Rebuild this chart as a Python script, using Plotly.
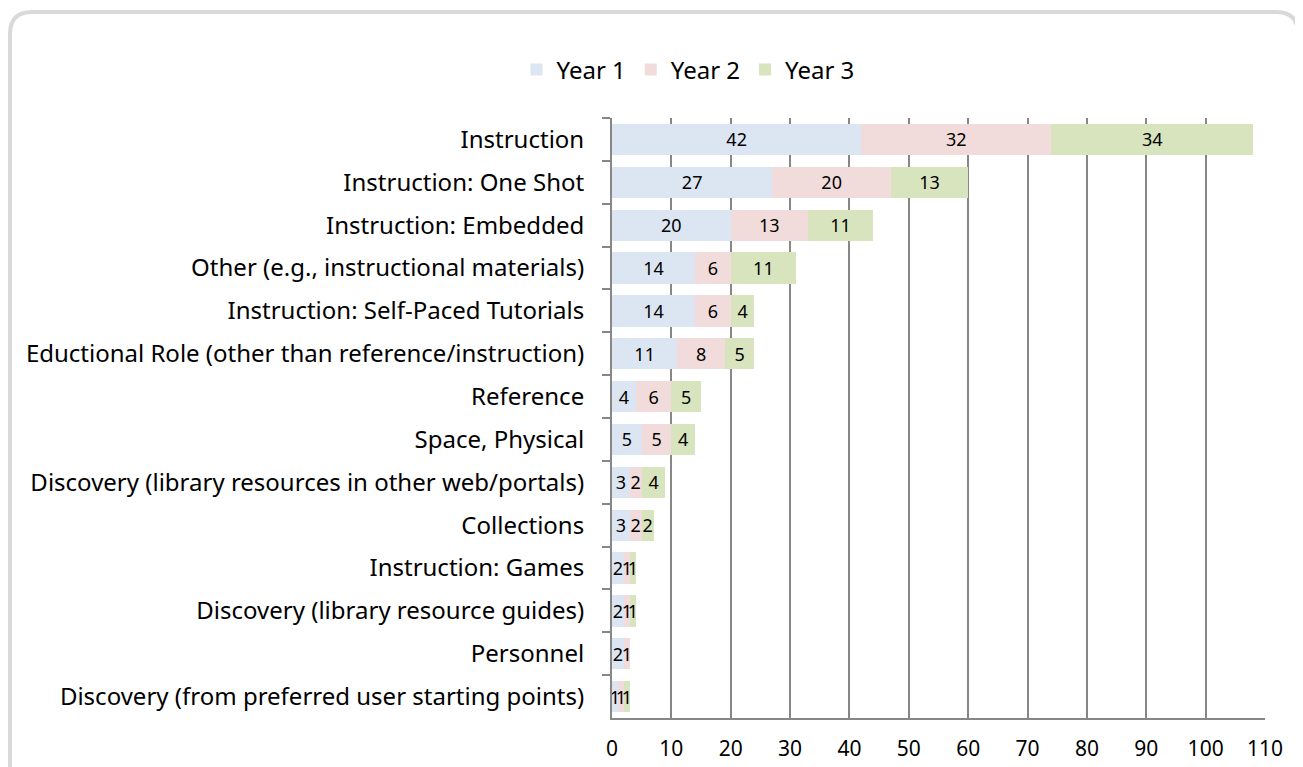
import plotly.graph_objects as go

categories = [
    "Instruction",
    "Instruction: One Shot",
    "Instruction: Embedded",
    "Other (e.g., instructional materials)",
    "Instruction: Self-Paced Tutorials",
    "Eductional Role (other than reference/instruction)",
    "Reference",
    "Space, Physical",
    "Discovery (library resources in other web/portals)",
    "Collections",
    "Instruction: Games",
    "Discovery (library resource guides)",
    "Personnel",
    "Discovery (from preferred user starting points)",
]
year1 = [42, 27, 20, 14, 14, 11, 4, 5, 3, 3, 2, 2, 2, 1]
year2 = [32, 20, 13, 6, 6, 8, 6, 5, 2, 2, 1, 1, 1, 1]
year3 = [34, 13, 11, 11, 4, 5, 5, 4, 4, 2, 1, 1, None, 1]
series_names = ["Year 1", "Year 2", "Year 3"]
series_colors = ["#dce6f2", "#f2dcdb", "#d7e4bd"]
x_ticks = [0, 10, 20, 30, 40, 50, 60, 70, 80, 90, 100, 110]

OFF = 8  # page body margin
W, H = 1303 - OFF, 767 - OFF
L, R, T, B = 612 - OFF, 38, 118 - OFF, 49
PW, PH = W - L - R, H - T - B

def px(x):
    return (x - OFF - L) / PW

def py(y):
    return (H - B - (y - OFF)) / PH

FONT = "Noto Sans"

fig = go.Figure()
for name, vals, col in zip(series_names, [year1, year2, year3], series_colors):
    fig.add_trace(go.Bar(
        y=categories, x=vals, name=name, orientation="h",
        marker=dict(color=col, line=dict(width=0)),
        text=[("" if v is None else str(v)) for v in vals],
        textposition="inside", insidetextanchor="middle",
        constraintext="none", cliponaxis=False,
        textfont=dict(family=FONT, size=18, color="#000000"),
        hoverinfo="x+y+name",
    ))

# rounded border around the chart area
x0, x1, y0, y1, r = 10, 1298, 12, 800, 22
path = (f"M {px(x0)},{py(y0 + r)} Q {px(x0)},{py(y0)} {px(x0 + r)},{py(y0)} "
        f"L {px(x1 - r)},{py(y0)} Q {px(x1)},{py(y0)} {px(x1)},{py(y0 + r)} "
        f"L {px(x1)},{py(y1)} L {px(x0)},{py(y1)} Z")
fig.add_shape(type="path", xref="paper", yref="paper", path=path,
              line=dict(color="#d9d9d9", width=4), fillcolor="rgba(0,0,0,0)", layer="below")

fig.update_layout(
    width=W, height=H,
    margin=dict(l=L, r=R, t=T, b=B, autoexpand=False),
    barmode="stack", bargap=0.27,
    paper_bgcolor="white", plot_bgcolor="white",
    font=dict(family=FONT, size=22, color="#000000"),
    showlegend=True,
    legend=dict(orientation="h", x=(688 - OFF) / W, xanchor="center", xref="container",
                y=py(70), yanchor="middle", font=dict(family=FONT, size=24),
                itemwidth=30, traceorder="normal", bgcolor="rgba(0,0,0,0)"),
    xaxis=dict(range=[0, 110], tickvals=x_ticks, ticktext=[str(t) for t in x_ticks],
               showgrid=True, gridcolor="#878787", gridwidth=2,
               showline=True, linecolor="#878787", linewidth=2,
               ticks="", ticklabelstandoff=11, zeroline=False,
               tickfont=dict(family=FONT, size=21)),
    yaxis=dict(categoryorder="array", categoryarray=categories, autorange="reversed",
               showline=True, linecolor="#878787", linewidth=2,
               ticks="outside", tickson="boundaries", ticklen=8, tickwidth=2, tickcolor="#878787",
               showgrid=False, ticklabelstandoff=21,
               tickfont=dict(family=FONT, size=24)),
)

fig.write_html("out.html")
